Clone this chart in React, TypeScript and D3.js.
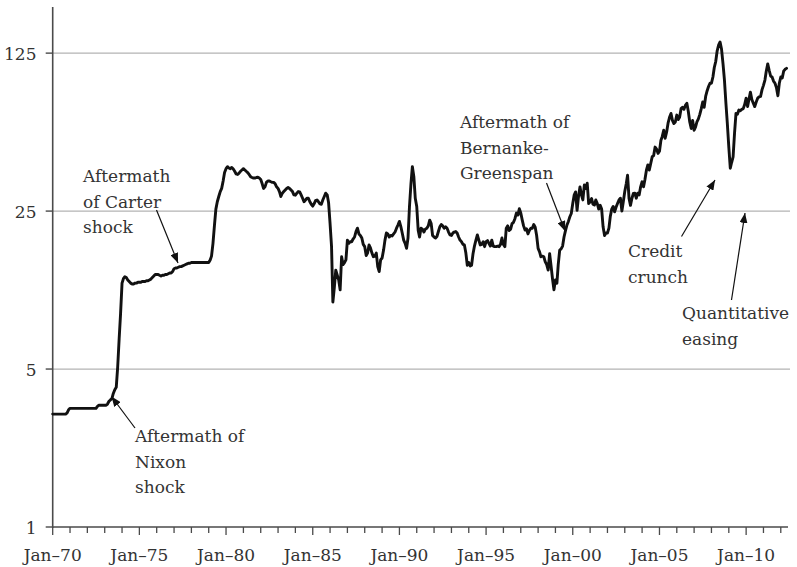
import React from "react";
import * as d3 from "d3";

// Monthly oil price (US$/barrel), each array starts in January of its decade
const prices1970s = [
  3.16, 3.16, 3.16, 3.16, 3.16, 3.16, 3.16, 3.16, 3.16, 3.16, 3.2, 3.3,
  3.35, 3.35, 3.35, 3.35, 3.35, 3.35, 3.35, 3.35, 3.35, 3.35, 3.35, 3.35,
  3.35, 3.35, 3.35, 3.35, 3.35, 3.35, 3.35, 3.42, 3.46, 3.46, 3.46, 3.46,
  3.46, 3.46, 3.5, 3.6, 3.65, 3.7, 3.9, 4.05, 4.15, 5.1, 6.8, 8.8,
  12.0, 12.6, 12.8, 12.7, 12.4, 12.2, 12.0, 11.9, 11.9, 12.0, 12.0, 12.1,
  12.1, 12.1, 12.2, 12.2, 12.2, 12.3, 12.3, 12.4, 12.5, 12.7, 12.9, 13.1,
  13.1, 13.1, 13.0, 12.9, 13.0, 13.0, 13.1, 13.1, 13.2, 13.3, 13.3, 13.5,
  13.9, 14.0, 14.0, 14.1, 14.2, 14.2, 14.3, 14.4, 14.5, 14.6, 14.7, 14.7,
  14.8, 14.8, 14.8, 14.8, 14.8, 14.8, 14.8, 14.8, 14.8, 14.8, 14.8, 14.8,
  14.8, 15.2, 15.8, 18.0, 21.5, 25.5, 27.5, 29.0, 30.5, 31.5, 34.0, 37.0,
];
const prices1980s = [
  38.5, 39.3, 38.8, 38.5, 39.0, 38.4, 37.5, 36.5, 36.3, 36.8, 37.5, 38.0,
  38.5, 38.0, 37.5, 37.0, 36.3, 35.5, 35.2, 35.0, 35.0, 35.2, 35.3, 35.0,
  34.5, 33.0, 31.5, 32.0, 33.5, 34.0, 34.0, 33.7, 33.5, 33.5, 33.0, 32.0,
  31.5, 30.4, 29.0, 30.0, 30.5, 31.0, 31.5, 31.8, 31.5, 31.0, 30.5, 29.5,
  29.4, 30.0, 30.5, 30.4, 29.5, 28.5, 27.5, 28.0, 28.5, 28.5, 27.5, 26.8,
  26.3, 27.0, 27.8, 28.0, 27.5, 26.9, 26.8, 28.0, 29.0, 30.0, 29.5, 27.2,
  22.0, 17.4, 9.9, 11.5, 13.7, 13.0, 12.4, 11.2, 15.7, 14.5, 14.8, 15.2,
  18.6, 18.0, 18.3, 18.3, 18.8, 19.2, 20.3, 21.0, 19.8, 19.5, 19.0, 17.8,
  17.4, 15.9, 16.3, 17.7, 17.2, 16.3, 15.7, 15.8, 16.3, 14.2, 13.5, 15.2,
  15.5, 16.8, 18.5, 20.0, 19.8, 19.2, 19.5, 19.4, 19.8, 20.2, 21.0, 21.7,
];
const prices1990s = [
  22.5, 21.3, 20.0, 18.6, 18.0, 17.1, 19.0, 26.2, 33.0, 39.3, 35.5, 28.5,
  26.2, 20.5, 19.2, 21.0, 20.8, 20.2, 20.8, 21.0, 21.5, 22.8, 22.0, 19.5,
  19.2, 19.0, 19.3, 20.3, 21.3, 21.8, 21.5, 21.0, 21.3, 21.0, 20.2, 19.6,
  19.5, 20.0, 20.2, 20.3, 20.0, 19.2, 18.6, 18.3, 17.8, 17.7, 16.3, 14.4,
  14.8, 14.3, 14.4, 16.2, 17.5, 18.6, 19.6, 18.6, 17.7, 17.8, 18.3, 17.4,
  18.3, 18.5, 18.0, 17.5, 18.6, 17.5, 17.4, 17.4, 17.5, 17.4, 17.8, 19.0,
  17.8, 17.4, 21.0, 21.5, 20.5, 20.8, 22.0, 22.3, 23.2, 24.5, 24.0, 25.6,
  24.5, 22.8, 21.5, 20.6, 20.9, 19.8, 20.5, 21.0, 21.0, 21.8, 21.2, 19.5,
  17.1, 16.5, 15.7, 15.8, 15.7, 14.9, 14.5, 13.7, 16.2, 14.3, 12.5, 11.2,
  12.4, 12.0, 14.5, 16.8, 17.0, 17.5, 19.2, 20.5, 21.7, 22.5, 23.6, 24.4,
];
const prices2000s = [
  27.0, 29.5, 30.4, 25.2, 29.0, 32.0, 29.5, 28.0, 32.6, 31.5, 33.2, 27.0,
  27.5, 28.4, 26.8, 26.6, 28.0, 27.0, 25.5, 26.5, 25.5, 21.3, 19.5, 20.0,
  20.0, 21.0, 23.6, 25.5, 26.2, 24.8, 26.0, 27.0, 28.0, 28.5, 25.0, 27.5,
  30.5, 33.0, 36.0, 28.4, 26.5, 28.5, 29.9, 30.0, 28.5, 30.0, 29.5, 32.0,
  33.7, 32.0, 34.5, 37.9, 40.0, 38.0, 40.6, 43.5, 44.0, 48.0, 47.0, 45.0,
  46.0, 51.5, 53.5, 57.0, 52.5, 56.0, 61.2, 65.0, 67.6, 63.0, 61.0, 62.0,
  66.5, 63.5, 65.0, 71.0, 72.0, 70.5, 73.4, 75.0, 69.0, 62.0, 58.0, 63.0,
  57.0, 59.0, 62.0, 64.0, 67.0, 71.0, 76.0, 72.0, 80.4, 85.0, 89.0, 92.0,
  92.0, 98.0, 108.0, 115.0, 128.0, 136.0, 140.0, 130.0, 112.0, 95.0, 75.0, 61.0,
  48.0, 38.7, 41.0, 43.4, 55.0, 67.6, 67.0, 70.0, 69.5, 70.5, 71.0, 74.0,
];
const prices2010s = [
  79.0, 72.5, 78.0, 84.0, 78.0, 75.0, 72.5, 76.0, 79.0, 80.0, 80.4, 86.0,
  90.0, 95.0, 104.0, 112.0, 105.0, 99.0, 98.0, 94.0, 92.0, 88.0, 81.0, 92.0,
  98.0, 97.0, 104.0, 106.0, 107.0,
];

const yTickValues = [1, 5, 25, 125];
const labelYears = [1970, 1975, 1980, 1985, 1990, 1995, 2000, 2005, 2010];

const annotations = [
  { lines: ["Aftermath of", "Nixon", "shock"], x: 135, y: 442, from: [135, 428], to: [111.5, 396.5] },
  { lines: ["Aftermath", "of Carter", "shock"], x: 83, y: 182, from: [156.5, 210], to: [178, 263] },
  { lines: ["Aftermath of", "Bernanke-", "Greenspan"], x: 460, y: 128, from: [546.5, 183], to: [565, 231] },
  { lines: ["Credit", "crunch"], x: 628, y: 257, from: [681.5, 236.5], to: [715, 180] },
  { lines: ["Quantitative", "easing"], x: 682, y: 319, from: [731.5, 300], to: [745, 213] },
];

const decades = [prices1970s, prices1980s, prices1990s, prices2000s, prices2010s];
const series = decades.flatMap((arr, d) =>
  arr.map((v, i) => ({ date: new Date(1970 + d * 10 + Math.floor(i / 12), i % 12, 1), value: v }))
);

const W = 797;
const H = 567;
const FONT = "'DejaVu Serif', serif";
const INK = "#333";

export default function App() {
  const x = d3.scaleTime().domain([new Date(1970, 0, 1), new Date(2012, 5, 1)]).range([52.7, 788]);
  const y = d3.scaleLog().domain([1, 200]).range([527, 7]);
  const line = d3
    .line<{ date: Date; value: number }>()
    .x((d) => x(d.date))
    .y((d) => y(d.value));

  const yearTicks = d3.timeYear.range(new Date(1970, 0, 1), new Date(2012, 1, 1));
  const x0 = x.range()[0];
  const x1 = x.range()[1];
  const lineH = 25.5;

  return (
    <svg width={W} height={H} style={{ position: "absolute", left: 0, top: 0, background: "#fff" }}>
      <defs>
        <marker id="arrowhead" markerUnits="userSpaceOnUse" markerWidth={11} markerHeight={8} refX={10} refY={4} orient="auto">
          <path d="M0,0 L10,4 L0,8 Z" fill="#111" />
        </marker>
      </defs>

      {/* gridlines */}
      {yTickValues.slice(1).map((v) => (
        <line key={v} x1={x0} x2={x1 + 2} y1={y(v)} y2={y(v)} stroke="#b3b3b3" strokeWidth={1.2} />
      ))}

      {/* y axis */}
      <line x1={x0} x2={x0} y1={y.range()[1]} y2={y(1) + 1} stroke="#4a4a4a" strokeWidth={1.6} />
      {yTickValues.map((v) => (
        <g key={v}>
          <line x1={x0 - 7} x2={x0} y1={y(v)} y2={y(v)} stroke="#4a4a4a" strokeWidth={1.4} />
          <text x={36.5} y={y(v) + 6.5} textAnchor="end" fontFamily={FONT} fontSize={17} fill={INK}>
            {v}
          </text>
        </g>
      ))}

      {/* x axis */}
      <line x1={x0} x2={x1} y1={y(1)} y2={y(1)} stroke="#4a4a4a" strokeWidth={1.6} />
      {yearTicks.map((t) => {
        const major = t.getFullYear() % 5 === 0;
        return (
          <line key={+t} x1={x(t)} x2={x(t)} y1={y(1)} y2={y(1) + (major ? 8 : 6)} stroke="#4a4a4a" strokeWidth={1.3} />
        );
      })}
      {labelYears.map((yr) => (
        <text key={yr} x={x(new Date(yr, 0, 1))} y={561} textAnchor="middle" fontFamily={FONT} fontSize={17} fill={INK}>
          {`Jan\u2013${String(yr % 100).padStart(2, "0")}`}
        </text>
      ))}

      {/* price line */}
      <path d={line(series) ?? ""} fill="none" stroke="#111" strokeWidth={2.9} strokeLinejoin="round" strokeLinecap="round" />

      {/* annotations */}
      {annotations.map((a, i) => (
        <g key={i}>
          <line x1={a.from[0]} y1={a.from[1]} x2={a.to[0]} y2={a.to[1]} stroke="#111" strokeWidth={1.2} markerEnd="url(#arrowhead)" />
          {a.lines.map((l, j) => (
            <text key={j} x={a.x} y={a.y + j * lineH} fontFamily={FONT} fontSize={17} fill={INK}>
              {l}
            </text>
          ))}
        </g>
      ))}
    </svg>
  );
}
